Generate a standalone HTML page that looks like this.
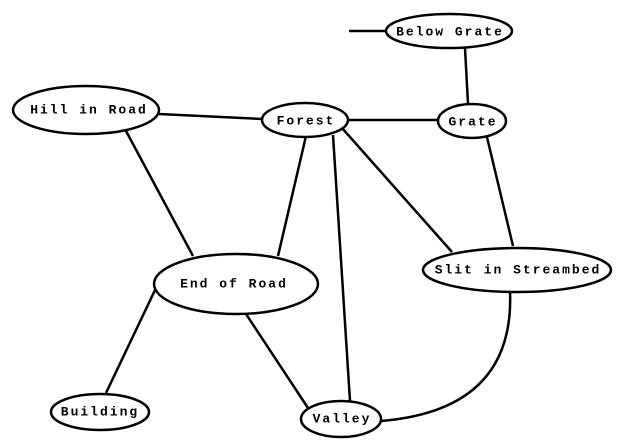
<!DOCTYPE html>
<html><head><style>body{margin:0;background:#fff}svg{display:block}text{font-family:"Liberation Mono",monospace;font-weight:bold;font-size:13px;letter-spacing:2px;text-anchor:middle;dominant-baseline:central}</style></head>
<body>
<svg width="619" height="448" viewBox="0 0 619 448" xmlns="http://www.w3.org/2000/svg">
<g stroke="#000" stroke-width="2.5" fill="none">
<line x1="349" y1="31" x2="386" y2="31"/>
<line x1="465" y1="48" x2="468" y2="104"/>
<line x1="159" y1="114" x2="262" y2="119"/>
<line x1="348" y1="120" x2="438" y2="120"/>
<line x1="126" y1="131" x2="193" y2="256"/>
<line x1="306" y1="136" x2="278" y2="256"/>
<line x1="333" y1="135" x2="350" y2="401"/>
<line x1="342" y1="128" x2="452" y2="252"/>
<line x1="486" y1="133" x2="513" y2="246"/>
<line x1="156" y1="288" x2="106" y2="393"/>
<line x1="246" y1="314" x2="308" y2="408"/>
<path d="M510 291 Q515 410 381 421"/>
<ellipse cx="449" cy="31" rx="63" ry="17" fill="#fff"/>
<ellipse cx="86" cy="110" rx="73" ry="24" fill="#fff"/>
<ellipse cx="305" cy="120" rx="43" ry="17" fill="#fff"/>
<ellipse cx="472" cy="121" rx="34" ry="17" fill="#fff"/>
<ellipse cx="236" cy="284" rx="82" ry="30" fill="#fff"/>
<ellipse cx="517" cy="270" rx="94" ry="22" fill="#fff"/>
<ellipse cx="100" cy="412" rx="49" ry="18" fill="#fff"/>
<ellipse cx="341" cy="419" rx="40" ry="18" fill="#fff"/>
</g>
<text x="450" y="32">Below Grate</text>
<text x="89" y="110">Hill in Road</text>
<text x="306" y="121">Forest</text>
<text x="473" y="122">Grate</text>
<text x="234" y="284">End of Road</text>
<text x="518" y="270">Slit in Streambed</text>
<text x="100" y="412">Building</text>
<text x="342" y="419">Valley</text>
</svg>
</body></html>
